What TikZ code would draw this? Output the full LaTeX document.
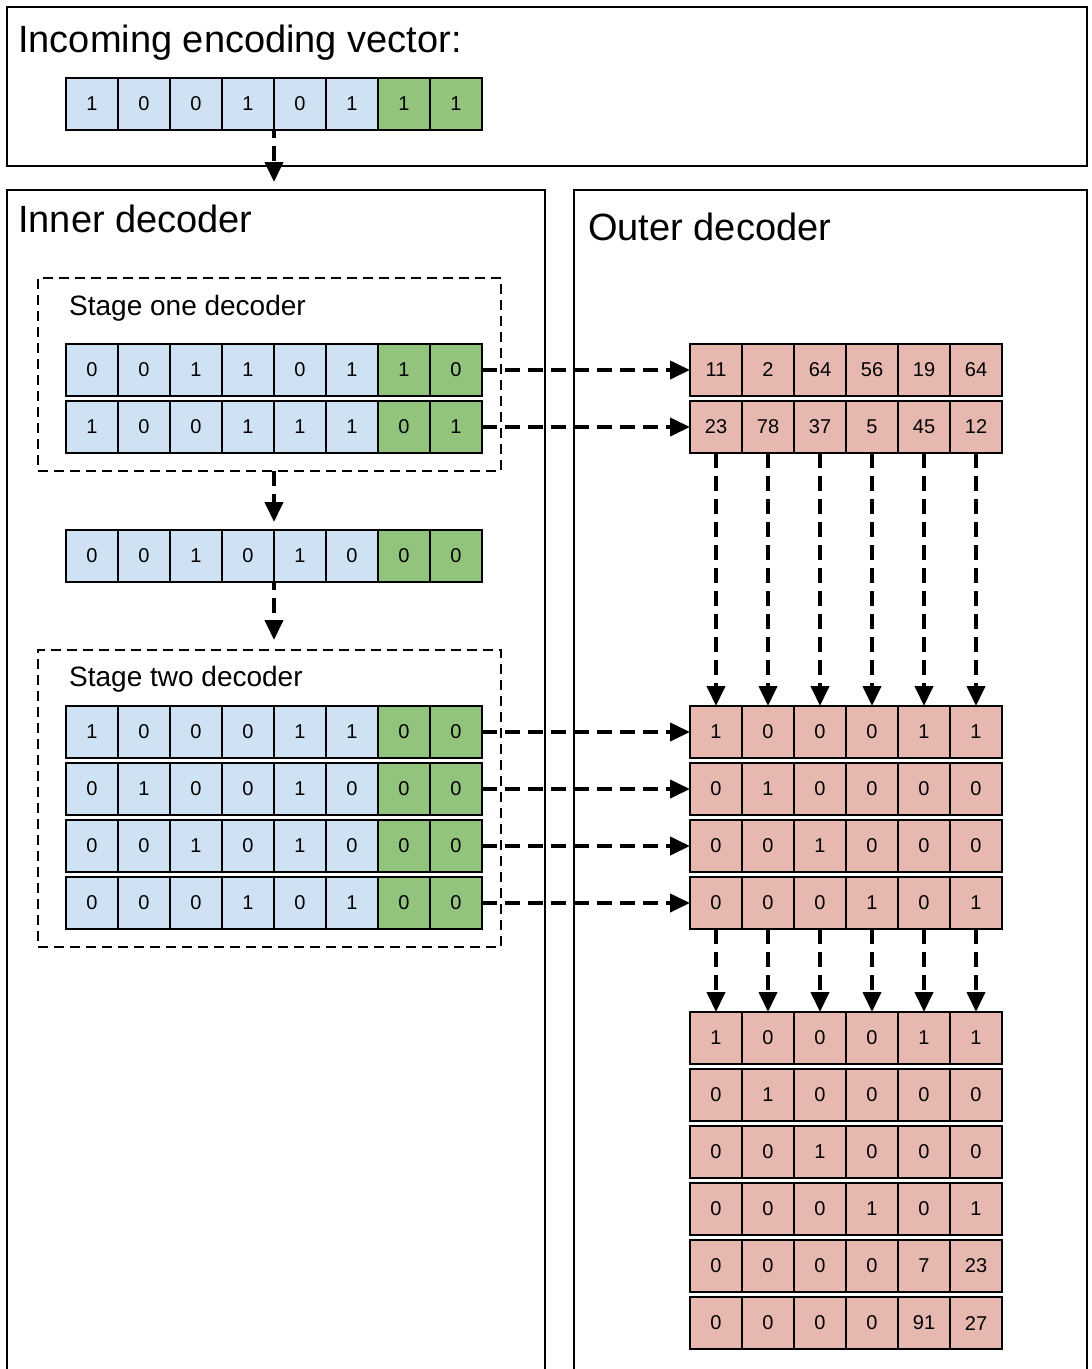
\documentclass[tikz,border=0pt]{standalone}
\usepackage{fontspec}
\setmainfont{Liberation Sans}
\usetikzlibrary{arrows.meta}
\definecolor{cellblue}{HTML}{CFE2F3}
\definecolor{cellgreen}{HTML}{93C47D}
\definecolor{cellpink}{HTML}{E6B8AF}
\tikzset{
  cell/.style={draw=black, line width=2.8pt, minimum width=52pt, minimum height=52pt,
    inner sep=0pt, outer sep=0pt, font=\fontsize{20}{22}\selectfont},
  panel/.style={draw=black, line width=2.2pt, inner sep=0pt, outer sep=0pt},
  stagebox/.style={draw=black, line width=2.5pt, dash pattern=on 10pt off 6pt,
    inner sep=0pt, outer sep=0pt},
  flow/.style={line width=4pt, dash pattern=on 15pt off 8pt,
    -{Triangle[length=20pt,width=18pt]}},
  title/.style={anchor=base west, inner sep=0pt, font=\fontsize{38}{40}\selectfont},
  sublabel/.style={anchor=base west, inner sep=0pt, font=\fontsize{28}{30}\selectfont},
}
% a row of eight bits: six data cells (blue) and two check cells (green)
\newcommand\bitrow[3]{%
  \foreach \v [count=\i] in {#3} {%
    \ifnum\i>6 \def\cellcol{cellgreen}\else\def\cellcol{cellblue}\fi
    \node[cell, fill=\cellcol] (#1-\i) at ({66+26+52*(\i-1)}, #2) {\v};
  }}
% a row of six symbols of the outer code
\newcommand\symrow[3]{%
  \foreach \v [count=\i] in {#3} {%
    \node[cell, fill=cellpink] (#1-\i) at ({690+26+52*(\i-1)}, #2) {\v};
  }}
\begin{document}
\begin{tikzpicture}[x=1pt, y=-1pt]
  \useasboundingbox (0,0) rectangle (1092,1369);
  \clip (0,0) rectangle (1092,1369);

  % panels
  \node[panel, anchor=north west, minimum width=1080pt, minimum height=159pt] (top) at (7,7) {};
  \node[panel, anchor=north west, minimum width=538pt, minimum height=1220pt] (inner) at (7,190) {};
  \node[panel, anchor=north west, minimum width=513pt, minimum height=1220pt] (outer) at (574,190) {};
  \node[stagebox, anchor=north west, minimum width=463pt, minimum height=193pt] (stage1) at (38,278) {};
  \node[stagebox, anchor=north west, minimum width=463pt, minimum height=297pt] (stage2) at (38,650) {};

  % titles
  \node[title] (t-in) at (18,52) {Incoming encoding vector:};
  \node[title] (t-inner) at (18,232) {Inner decoder};
  \node[title] (t-outer) at (588,240) {Outer decoder};
  \node[sublabel] (t-s1) at (69,315) {Stage one decoder};
  \node[sublabel] (t-s2) at (69,686) {Stage two decoder};

  % inner decoder rows
  \bitrow{in}{104}{1,0,0,1,0,1,1,1}
  \bitrow{a}{370}{0,0,1,1,0,1,1,0}
  \bitrow{b}{427}{1,0,0,1,1,1,0,1}
  \bitrow{mid}{556}{0,0,1,0,1,0,0,0}
  \bitrow{c}{732}{1,0,0,0,1,1,0,0}
  \bitrow{d}{789}{0,1,0,0,1,0,0,0}
  \bitrow{e}{846}{0,0,1,0,1,0,0,0}
  \bitrow{f}{903}{0,0,0,1,0,1,0,0}

  % outer decoder rows
  \symrow{oa}{370}{11,2,64,56,19,64}
  \symrow{ob}{427}{23,78,37,5,45,12}
  \symrow{oc}{732}{1,0,0,0,1,1}
  \symrow{od}{789}{0,1,0,0,0,0}
  \symrow{oe}{846}{0,0,1,0,0,0}
  \symrow{of}{903}{0,0,0,1,0,1}
  \symrow{ga}{1038}{1,0,0,0,1,1}
  \symrow{gb}{1095}{0,1,0,0,0,0}
  \symrow{gc}{1152}{0,0,1,0,0,0}
  \symrow{gd}{1209}{0,0,0,1,0,1}
  \symrow{ge}{1266}{0,0,0,0,7,23}
  \symrow{gf}{1323}{0,0,0,0,91,27}

  % flow through the inner decoder
  \draw[flow, dash phase=7pt, shorten >=8pt] (in-4.south east) -- (in-4.south east |- inner.north);
  \draw[flow, shorten >=8pt] (stage1.south -| mid-4.north east) -- (mid-4.north east);
  \draw[flow, dash phase=7pt, shorten >=10pt] (mid-4.south east) -- (mid-4.south east |- stage2.north);

  % rows handed to the outer decoder
  \foreach \r/\o in {a/oa, b/ob, c/oc, d/od, e/oe, f/of}
    \draw[flow] (\r-8.east) -- (\o-1.west);

  % column-wise decoding
  \foreach \j in {1,...,6} {
    \draw[flow] (ob-\j.south) -- (oc-\j.north);
    \draw[flow] (of-\j.south) -- (ga-\j.north);
  }
\end{tikzpicture}
\end{document}
